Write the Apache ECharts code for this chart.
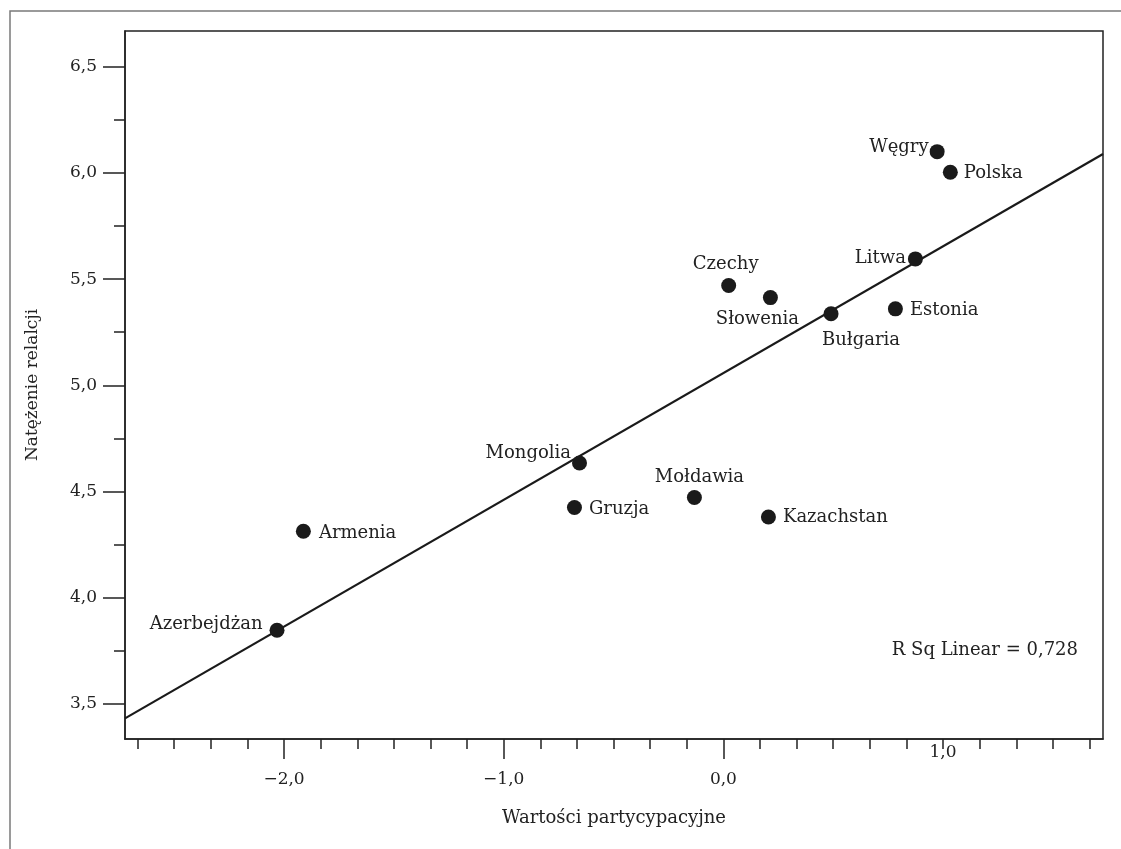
<!DOCTYPE html>
<html>
<head>
<meta charset="utf-8">
<script src="https://cdn.jsdelivr.net/npm/echarts@6/dist/echarts.min.js"></script>
<style>
  html, body { margin: 0; padding: 0; background: #fff; }
  #chart { width: 1121px; height: 849px; }
</style>
</head>
<body>
<div id="chart"></div>
<script>
  // dane
  var countries = ['Azerbejdżan', 'Armenia', 'Mongolia', 'Gruzja', 'Mołdawia', 'Kazachstan', 'Czechy', 'Słowenia', 'Bułgaria', 'Estonia', 'Litwa', 'Węgry', 'Polska']
  var xValues = [-2.032, -1.912, -0.655, -0.678, -0.132, 0.205, 0.024, 0.214, 0.490, 0.783, 0.874, 0.973, 1.033]
  var yValues = [3.847, 4.313, 4.634, 4.425, 4.472, 4.380, 5.470, 5.413, 5.337, 5.360, 5.595, 6.100, 6.003]
  var fitLine = [[-2.724, 3.432], [1.728, 6.089]]
  var rSquared = '0,728'
  var xMajor = [-2, -1, 0]
  var yMajor = [3.5, 4.0, 4.5, 5.0, 5.5, 6.0, 6.5]
  var yMinor = [3.75, 4.25, 4.75, 5.25, 5.75, 6.25]

  var xMin = -2.724, xMax = 1.728
  var yMin = 3.335, yMax = 6.668

  // male kreski co 1/6 na osi X
  var xMinor = []
  for (var k = -4; k <= 22; k++) {
    if (k % 6 === 0 && k !== 18) continue
    xMinor.push(Math.round((-2 + k / 6) * 1e6) / 1e6)
  }

  var labelPos = {
    'Azerbejdżan': {position: 'left', distance: 7, offset: [0, -6]},
    'Armenia': {position: 'right', distance: 8, offset: [0, 2]},
    'Mongolia': {position: 'left', distance: 1, offset: [0, -10]},
    'Gruzja': {position: 'right', distance: 7, offset: [0, 2]},
    'Mołdawia': {position: 'top', distance: 4, offset: [5, 0]},
    'Kazachstan': {position: 'right', distance: 7, offset: [0, 0]},
    'Czechy': {position: 'top', distance: 5, offset: [-3, 0]},
    'Słowenia': {position: 'bottom', distance: 5, offset: [-13, 0]},
    'Bułgaria': {position: 'bottom', distance: 10, offset: [30, 0]},
    'Estonia': {position: 'right', distance: 7, offset: [0, 1]},
    'Litwa': {position: 'left', distance: 2, offset: [0, -1]},
    'Węgry': {position: 'left', distance: 1, offset: [0, -4]},
    'Polska': {position: 'right', distance: 6, offset: [0, 1]}
  }

  var font = 'DejaVu Serif'
  var ink = '#222'

  function fmt(v) {
    return v.toFixed(1).replace('.', ',').replace('-', '\u2212')
  }

  var points = countries.map(function (c, i) {
    return {name: c, value: [xValues[i], yValues[i]], label: labelPos[c]}
  })

  var chart = echarts.init(document.getElementById('chart'))
  chart.setOption({
    animation: false,
    backgroundColor: '#fff',
    grid: {
      left: 125, top: 31, right: 18, bottom: 110,
      show: true, borderColor: ink, borderWidth: 1.5
    },
    graphic: [
      {
        type: 'rect', z: -1,
        shape: {x: 10, y: 11, width: 1200, height: 1000},
        style: {fill: 'none', stroke: '#7a7a7a', lineWidth: 1.5}
      },
      {
        type: 'text', right: 43, top: 641,
        style: {text: 'R Sq Linear = ' + rSquared, font: '18px "' + font + '"', fill: ink}
      }
    ],
    xAxis: [
      {
        type: 'value', min: xMin, max: xMax, position: 'bottom',
        name: 'Wartości partycypacyjne', nameLocation: 'middle', nameGap: 70,
        nameTextStyle: {fontFamily: font, fontSize: 18, color: ink},
        axisLine: {onZero: false, lineStyle: {color: ink, width: 1.5}},
        axisTick: {customValues: xMajor, length: 20, lineStyle: {color: ink, width: 1.5}},
        axisLabel: {customValues: xMajor, formatter: fmt, margin: 32, fontFamily: font, fontSize: 17, color: ink},
        splitLine: {show: false}
      },
      {
        type: 'value', min: xMin, max: xMax, position: 'bottom',
        axisLine: {show: false, onZero: false},
        axisTick: {customValues: xMinor, length: 10, lineStyle: {color: ink, width: 1.5}},
        axisLabel: {show: false},
        splitLine: {show: false}
      },
      {
        type: 'value', min: xMin, max: xMax, position: 'bottom',
        axisLine: {show: false, onZero: false},
        axisTick: {show: false},
        axisLabel: {customValues: [1], formatter: fmt, margin: 5, fontFamily: font, fontSize: 17, color: ink},
        splitLine: {show: false}
      }
    ],
    yAxis: [
      {
        type: 'value', min: yMin, max: yMax, position: 'left',
        name: 'Natężenie relalcji', nameLocation: 'middle', nameGap: 84, nameRotate: 90,
        nameTextStyle: {fontFamily: font, fontSize: 17, color: ink},
        axisLine: {onZero: false, lineStyle: {color: ink, width: 1.5}},
        axisTick: {customValues: yMajor, length: 22, lineStyle: {color: ink, width: 1.5}},
        axisLabel: {customValues: yMajor, formatter: fmt, margin: 28, fontFamily: font, fontSize: 17, color: ink},
        splitLine: {show: false}
      },
      {
        type: 'value', min: yMin, max: yMax, position: 'left',
        axisLine: {show: false, onZero: false},
        axisTick: {customValues: yMinor, length: 11, lineStyle: {color: ink, width: 1.5}},
        axisLabel: {show: false},
        splitLine: {show: false}
      }
    ],
    series: [
      {
        type: 'line',
        data: fitLine,
        showSymbol: false,
        silent: true,
        z: 1,
        lineStyle: {color: '#1a1a1a', width: 2.2}
      },
      {
        type: 'scatter',
        data: points,
        symbolSize: 15,
        z: 3,
        itemStyle: {color: '#1a1a1a', opacity: 1},
        label: {
          show: true,
          formatter: '{b}',
          fontFamily: font,
          fontSize: 18,
          color: ink
        }
      }
    ]
  })
</script>
</body>
</html>
